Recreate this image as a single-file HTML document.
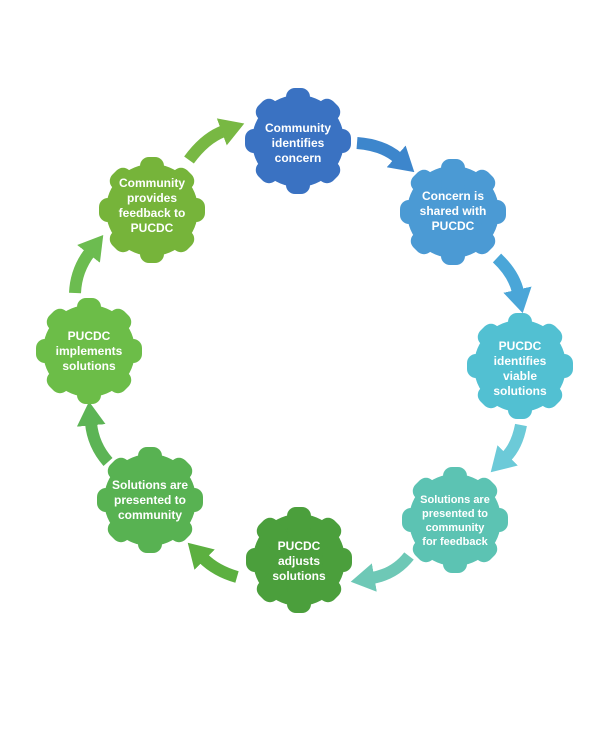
<!DOCTYPE html>
<html><head><meta charset="utf-8"><style>
html,body{margin:0;padding:0;background:#fff;}
svg{display:block;}
text{font-family:"Liberation Sans",sans-serif;font-weight:bold;font-size:12px;fill:#fff;text-anchor:middle;}
</style></head><body>
<svg width="600" height="747" viewBox="0 0 600 747" xmlns="http://www.w3.org/2000/svg">
<defs>
<g id="gear">
<circle r="46"/>
<rect x="-12" y="-53" width="24" height="30" rx="9"/>
<rect x="-12" y="-53" width="24" height="30" rx="9" transform="rotate(45)"/>
<rect x="-12" y="-53" width="24" height="30" rx="9" transform="rotate(90)"/>
<rect x="-12" y="-53" width="24" height="30" rx="9" transform="rotate(135)"/>
<rect x="-12" y="-53" width="24" height="30" rx="9" transform="rotate(180)"/>
<rect x="-12" y="-53" width="24" height="30" rx="9" transform="rotate(225)"/>
<rect x="-12" y="-53" width="24" height="30" rx="9" transform="rotate(270)"/>
<rect x="-12" y="-53" width="24" height="30" rx="9" transform="rotate(315)"/>
</g>
<marker id="m1" markerUnits="userSpaceOnUse" markerWidth="24" markerHeight="30" refX="2" refY="12" orient="auto" viewBox="0 0 20 24"><path d="M0,0 L20,12 L0,24z" fill="#78b843"/></marker>
<marker id="m2" markerUnits="userSpaceOnUse" markerWidth="24" markerHeight="30" refX="2" refY="12" orient="auto" viewBox="0 0 20 24"><path d="M0,0 L20,12 L0,24z" fill="#3d86cc"/></marker>
<marker id="m3" markerUnits="userSpaceOnUse" markerWidth="24" markerHeight="30" refX="2" refY="12" orient="auto" viewBox="0 0 20 24"><path d="M0,0 L20,12 L0,24z" fill="#4aa6d8"/></marker>
<marker id="m4" markerUnits="userSpaceOnUse" markerWidth="24" markerHeight="30" refX="2" refY="12" orient="auto" viewBox="0 0 20 24"><path d="M0,0 L20,12 L0,24z" fill="#6ccad8"/></marker>
<marker id="m5" markerUnits="userSpaceOnUse" markerWidth="24" markerHeight="30" refX="2" refY="12" orient="auto" viewBox="0 0 20 24"><path d="M0,0 L20,12 L0,24z" fill="#6ec8b6"/></marker>
<marker id="m6" markerUnits="userSpaceOnUse" markerWidth="24" markerHeight="30" refX="2" refY="12" orient="auto" viewBox="0 0 20 24"><path d="M0,0 L20,12 L0,24z" fill="#5cb040"/></marker>
<marker id="m7" markerUnits="userSpaceOnUse" markerWidth="24" markerHeight="30" refX="2" refY="12" orient="auto" viewBox="0 0 20 24"><path d="M0,0 L20,12 L0,24z" fill="#5cb455"/></marker>
<marker id="m8" markerUnits="userSpaceOnUse" markerWidth="24" markerHeight="30" refX="2" refY="12" orient="auto" viewBox="0 0 20 24"><path d="M0,0 L20,12 L0,24z" fill="#6cbc50"/></marker>
</defs>
<g fill="none" stroke-width="12">
<path d="M189,160 Q205,138 224,131" stroke="#78b843" marker-end="url(#m1)"/>
<path d="M357,143 Q383,145 398,158" stroke="#3d86cc" marker-end="url(#m2)"/>
<path d="M497,258 Q514,274 518,292" stroke="#4aa6d8" marker-end="url(#m3)"/>
<path d="M521,425 Q517,446 506,457" stroke="#6ccad8" marker-end="url(#m4)"/>
<path d="M409,556 Q395,574 372,578" stroke="#6ec8b6" marker-end="url(#m5)"/>
<path d="M237,577 Q216,571 203,558" stroke="#5cb040" marker-end="url(#m6)"/>
<path d="M108,462 Q93,445 91,423" stroke="#5cb455" marker-end="url(#m7)"/>
<path d="M75,293 Q76,270 90,252" stroke="#6cbc50" marker-end="url(#m8)"/>
</g>
<use href="#gear" x="298" y="141" fill="#3a72c2"/>
<use href="#gear" x="453" y="212" fill="#4b9ad4"/>
<use href="#gear" x="520" y="366" fill="#52c0d2"/>
<use href="#gear" x="455" y="520" fill="#5cc3b3"/>
<use href="#gear" x="299" y="560" fill="#4b9f3c"/>
<use href="#gear" x="150" y="500" fill="#58b252"/>
<use href="#gear" x="89" y="351" fill="#6cbd48"/>
<use href="#gear" x="152" y="210" fill="#76b43a"/>
<text x="298" y="132">Community</text><text x="298" y="147">identifies</text><text x="298" y="162">concern</text>
<text x="453" y="200">Concern is</text><text x="453" y="215">shared with</text><text x="453" y="230">PUCDC</text>
<text x="520" y="350">PUCDC</text><text x="520" y="365">identifies</text><text x="520" y="380">viable</text><text x="520" y="395">solutions</text>
<text x="455" y="503" style="font-size:11px">Solutions are</text><text x="455" y="517" style="font-size:11px">presented to</text><text x="455" y="531" style="font-size:11px">community</text><text x="455" y="545" style="font-size:11px">for feedback</text>
<text x="299" y="550">PUCDC</text><text x="299" y="565">adjusts</text><text x="299" y="580">solutions</text>
<text x="150" y="489">Solutions are</text><text x="150" y="504">presented to</text><text x="150" y="519">community</text>
<text x="89" y="340">PUCDC</text><text x="89" y="355">implements</text><text x="89" y="370">solutions</text>
<text x="152" y="187">Community</text><text x="152" y="202">provides</text><text x="152" y="217">feedback to</text><text x="152" y="232">PUCDC</text>
</svg>
</body></html>
